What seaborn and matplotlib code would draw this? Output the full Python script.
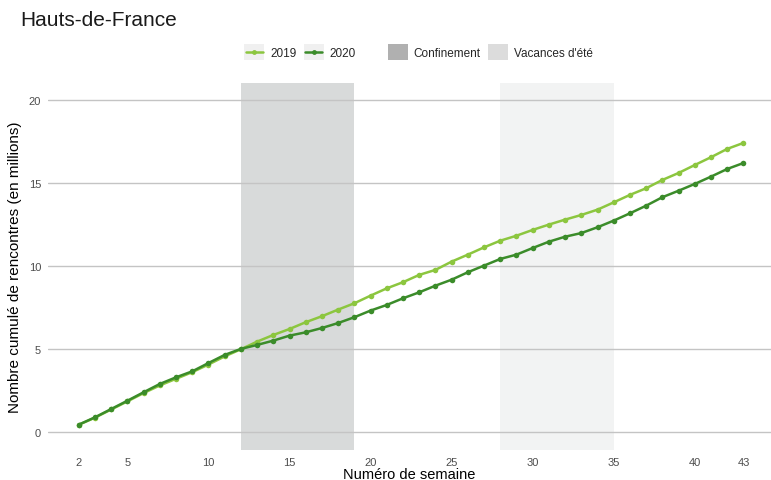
import numpy as np
import pandas as pd
import matplotlib
matplotlib.use("Agg")
import matplotlib.pyplot as plt
import seaborn as sns
from matplotlib.lines import Line2D
from matplotlib.patches import Patch, Rectangle
from matplotlib.legend_handler import HandlerBase

weeks = list(range(2, 44))
vals_2019 = [0.45, 0.88, 1.37, 1.86, 2.36, 2.82, 3.22, 3.62, 4.08, 4.57, 5.0,
             5.46, 5.86, 6.22, 6.63, 6.99, 7.39, 7.77, 8.23, 8.67, 9.04, 9.48,
             9.78, 10.28, 10.70, 11.14, 11.54, 11.84, 12.19, 12.51, 12.81, 13.09,
             13.41, 13.85, 14.30, 14.70, 15.20, 15.62, 16.10, 16.57, 17.07, 17.43]
vals_2020 = [0.46, 0.90, 1.40, 1.90, 2.41, 2.91, 3.31, 3.67, 4.17, 4.66, 5.02,
             5.26, 5.52, 5.82, 6.02, 6.28, 6.58, 6.93, 7.33, 7.67, 8.07, 8.43,
             8.83, 9.19, 9.64, 10.04, 10.44, 10.70, 11.10, 11.48, 11.78, 12.00,
             12.35, 12.75, 13.19, 13.65, 14.16, 14.55, 14.96, 15.40, 15.86, 16.22]
confinement = (12, 19)
vacances = (28, 35)
x_ticks = [2, 5, 10, 15, 20, 25, 30, 35, 40, 43]
y_ticks = [0, 5, 10, 15, 20]

c2019 = "#8cc63f"
c2020 = "#3b8c2a"

sns.set_theme(style="white")
plt.rcParams['font.family'] = ['Liberation Sans', 'DejaVu Sans']

df = pd.DataFrame({
    "semaine": weeks * 2,
    "valeur": vals_2019 + vals_2020,
    "annee": ["2019"] * len(weeks) + ["2020"] * len(weeks),
})

fig = plt.figure(figsize=(7.71, 4.81), dpi=100)
ax = fig.add_axes([48 / 771, 30 / 481, 1 - 48 / 771, (451 - 84) / 481])

ax.axvspan(*confinement, color="#d8dada", zorder=0, lw=0)
ax.axvspan(*vacances, color="#f2f3f3", zorder=0, lw=0)
for yv in y_ticks:
    ax.axhline(yv, color="#c4c4c4", lw=1.0, zorder=0.5)

sns.lineplot(data=df, x="semaine", y="valeur", hue="annee",
             palette={"2019": c2019, "2020": c2020}, marker="o",
             markersize=4, markeredgewidth=0, linewidth=1.8,
             legend=False, ax=ax, zorder=3)

ax.set_xlim(0.1, 44.7)
ax.set_ylim(-1.07, 21.04)
ax.set_xticks(x_ticks)
ax.set_yticks(y_ticks)
ax.tick_params(axis="both", colors="#4d4d4d", labelsize=8, length=3,
               width=0.8, direction="out", pad=2)
ax.tick_params(axis="both", color="#888888")
for s in ax.spines.values():
    s.set_visible(False)
ax.grid(False)
ax.set_xlabel("Numéro de semaine", fontsize=10.5, color="black")
ax.xaxis.set_label_coords(0.5, (451 - 468) / 367)
ax.set_ylabel("Nombre cumulé de rencontres (en millions)", fontsize=11,
              color="black")
ax.yaxis.set_label_coords((22 - 48) / 723, 0.5)

fig.text(20 / 771, 1 - 20 / 481, "Hauts-de-France", fontsize=15,
         ha="left", va="center", color="#1a1a1a")


class KeyHandler(HandlerBase):
    def __init__(self, color):
        super().__init__()
        self.color = color

    def create_artists(self, legend, orig_handle, xdescent, ydescent,
                       width, height, fontsize, trans):
        r = Rectangle((-xdescent, -ydescent), width, height,
                      facecolor="#f0f0f0", edgecolor="none", transform=trans)
        y = -ydescent + height / 2
        ln = Line2D([-xdescent + 1, -xdescent + width - 1], [y, y],
                    color=self.color, lw=1.8, transform=trans)
        mk = Line2D([-xdescent + width / 2], [y], marker="o", markersize=3.5,
                    markeredgewidth=0, color=self.color, transform=trans)
        return [r, ln, mk]


h1 = Line2D([], [], color=c2019)
h2 = Line2D([], [], color=c2020)
leg1 = fig.legend([h1, h2], ["2019", "2020"], ncol=2, frameon=False,
                  loc="center", bbox_to_anchor=(300 / 771, 1 - 53 / 481),
                  fontsize=8.5, handlelength=1.7, handleheight=1.7,
                  handletextpad=0.5, columnspacing=0.6,
                  handler_map={h1: KeyHandler(c2019), h2: KeyHandler(c2020)})
p1 = Patch(facecolor="#b0b0b0", edgecolor="none")
p2 = Patch(facecolor="#dcdcdc", edgecolor="none")
leg2 = fig.legend([p1, p2], ["Confinement", "Vacances d'été"], ncol=2,
                  frameon=False, loc="center",
                  bbox_to_anchor=(490 / 771, 1 - 53 / 481),
                  fontsize=8.5, handlelength=1.7, handleheight=1.7,
                  handletextpad=0.5, columnspacing=0.6)

fig.savefig("out.png", dpi=100, facecolor="white")
